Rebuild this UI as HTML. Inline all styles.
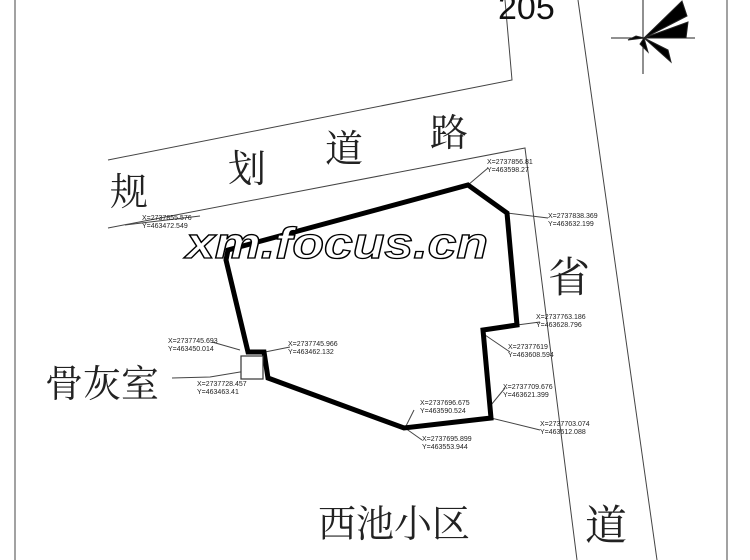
<!DOCTYPE html>
<html><head><meta charset="utf-8"><style>
html,body{margin:0;padding:0;background:#fff;}
svg{display:block;}
.c{font-family:"Liberation Serif","Noto Serif CJK SC",serif;fill:#222;}
.s{font-family:"Liberation Sans",sans-serif;font-size:7px;fill:#222;}
</style></head><body>
<svg width="750" height="560" viewBox="0 0 750 560" xmlns="http://www.w3.org/2000/svg">
<rect width="750" height="560" fill="#fff"/>
<g stroke="#444" stroke-width="1" fill="none">
<line x1="15" y1="0" x2="15" y2="560"/>
<line x1="727" y1="0" x2="727" y2="560"/>
<polyline points="505,0 512,80 108,160"/>
<polyline points="108,228 525,148 577,560"/>
<line x1="578" y1="0" x2="657" y2="560"/>
<line x1="468" y1="185" x2="488" y2="168"/>
<line x1="507" y1="213" x2="548" y2="218"/>
<line x1="517" y1="325" x2="540" y2="322"/>
<line x1="485" y1="335" x2="510" y2="352"/>
<line x1="491" y1="405" x2="505" y2="388"/>
<line x1="491" y1="418" x2="540" y2="430"/>
<line x1="405" y1="428" x2="422" y2="440"/>
<line x1="405" y1="428" x2="414" y2="410"/>
<line x1="265" y1="352" x2="290" y2="347"/>
<line x1="240" y1="350" x2="212" y2="342"/>
<polyline points="172,378 210,377 240,372 252,372"/>
<line x1="125" y1="225" x2="200" y2="216"/>
</g>
<polygon points="468,185 507,213 517,325 483,330 491,418 404,428 268,378 264,352 248,352 226,260 228,250" fill="none" stroke="#000" stroke-width="5" stroke-linejoin="miter"/>
<rect x="241" y="356" width="22" height="23" fill="#fff" stroke="#333" stroke-width="1.2"/>
<g class="s">
<text x="487" y="164">X=2737856.81</text><text x="487" y="172">Y=463598.27</text>
<text x="548" y="218">X=2737838.369</text><text x="548" y="226">Y=463632.199</text>
<text x="536" y="319">X=2737763.186</text><text x="536" y="327">Y=463628.796</text>
<text x="508" y="349">X=27377619</text><text x="508" y="357">Y=463608.594</text>
<text x="503" y="389">X=2737709.676</text><text x="503" y="397">Y=463621.399</text>
<text x="540" y="426">X=2737703.074</text><text x="540" y="434">Y=463612.088</text>
<text x="420" y="405">X=2737696.675</text><text x="420" y="413">Y=463590.524</text>
<text x="422" y="441">X=2737695.899</text><text x="422" y="449">Y=463553.944</text>
<text x="288" y="346">X=2737745.966</text><text x="288" y="354">Y=463462.132</text>
<text x="168" y="343">X=2737745.693</text><text x="168" y="351">Y=463450.014</text>
<text x="197" y="386">X=2737728.457</text><text x="197" y="394">Y=463463.41</text>
<text x="142" y="220">X=2737855.576</text><text x="142" y="228">Y=463472.549</text>
</g>
<g class="c" font-size="38">
<text x="110" y="205">规</text>
<text x="228" y="182">划</text>
<text x="325" y="162">道</text>
<text x="430" y="146">路</text>
<text x="548" y="292" font-size="42">省</text>
<text x="45" y="397">骨灰室</text>
<text x="318" y="537">西池小区</text>
<text x="585" y="540" font-size="42">道</text>
</g>
<text x="498" y="19" font-family="Liberation Sans,sans-serif" font-size="34" fill="#111">205</text>
<text x="186" y="258" font-family="Liberation Sans,sans-serif" font-style="italic" font-weight="bold" font-size="44" fill="#fff" stroke="#000" stroke-width="1.3" textLength="302" lengthAdjust="spacingAndGlyphs">xm.focus.cn</text>
<g stroke="#222" stroke-width="1">
<line x1="611" y1="38" x2="695" y2="38"/>
<line x1="643" y1="0" x2="643" y2="74"/>
</g>
<g fill="#000" stroke="#222" stroke-width="1">
<polygon points="644,38 682,1 687,16"/>
<polygon points="644,38 688,22 686,38"/>
<polygon points="644,38 671,62 668,50"/>
<polygon points="644,38 628,40 636,36"/>
<polygon points="644,38 648,52 640,44"/>
</g>
</svg>
</body></html>
